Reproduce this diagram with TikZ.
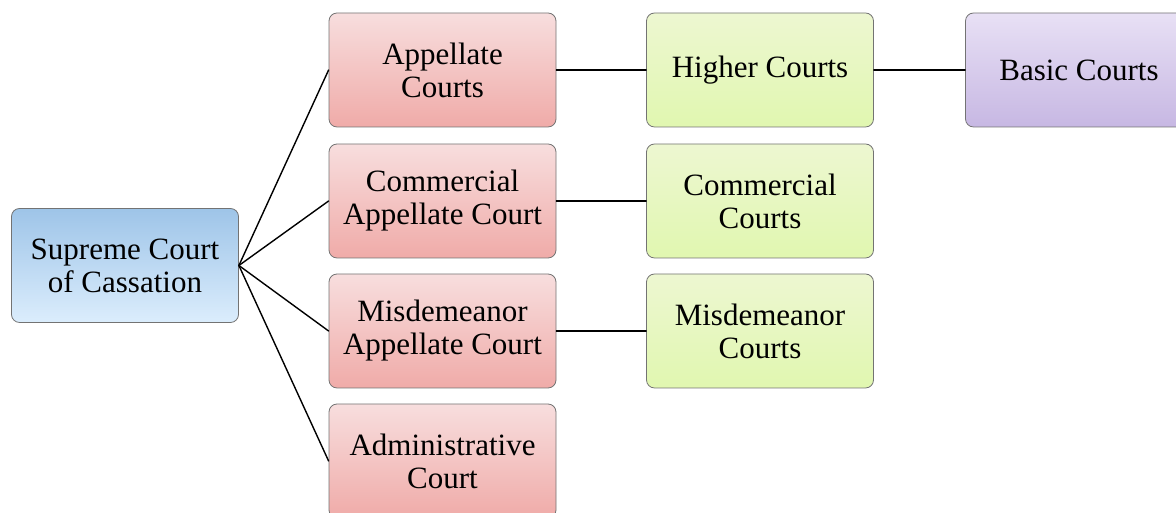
\documentclass[tikz,border=0pt]{standalone}
\usepackage{fontspec}
\setmainfont{Liberation Serif}
\definecolor{bluetop}{rgb}{0.62,0.77,0.91}
\definecolor{bluebot}{rgb}{0.86,0.93,0.99}
\definecolor{redtop}{rgb}{0.97,0.87,0.87}
\definecolor{redbot}{rgb}{0.94,0.67,0.66}
\definecolor{greentop}{rgb}{0.93,0.97,0.82}
\definecolor{greenbot}{rgb}{0.88,0.97,0.69}
\definecolor{violettop}{rgb}{0.91,0.88,0.96}
\definecolor{violetbot}{rgb}{0.78,0.72,0.89}
\definecolor{framegray}{rgb}{0.45,0.45,0.45}

\begin{document}
\begin{tikzpicture}[x=1pt,y=1pt,line cap=round,line join=round,
  court/.style={draw=framegray,line width=0.8pt,rounded corners=8pt,minimum width=227pt,minimum height=114pt,
    inner sep=2pt,align=center,font=\fontsize{31}{33}\selectfont},
  supreme/.style={court,top color=bluetop,bottom color=bluebot},
  appeal/.style={court,top color=redtop,bottom color=redbot},
  first/.style={court,top color=greentop,bottom color=greenbot},
  basic/.style={court,top color=violettop,bottom color=violetbot},
  link/.style={line width=1.4pt,color=black}]

\useasboundingbox (0,0) rectangle (1176,513);
\clip (0,0) rectangle (1176,513);

\node[supreme] (scc) at (125,247.5) {Supreme Court\\of Cassation};

\node[appeal] (ac) at (442.5,443) {Appellate\\Courts};
\node[appeal] (cac) at (442.5,312) {Commercial\\Appellate Court};
\node[appeal] (mac) at (442.5,182) {Misdemeanor\\Appellate Court};
\node[appeal] (adm) at (442.5,52) {Administrative\\Court};

\node[first] (hc) at (760,443) {Higher Courts};
\node[first] (cc) at (760,312) {Commercial\\Courts};
\node[first] (mc) at (760,182) {Misdemeanor\\Courts};

\node[basic] (bc) at (1079,443) {Basic Courts};

\foreach \a in {ac,cac,mac,adm}
\draw[link] (scc.east) -- (\a.west);
\draw[link] (ac) -- (hc);
\draw[link] (hc) -- (bc);
\draw[link] (cac) -- (cc);
\draw[link] (mac) -- (mc);

\end{tikzpicture}
\end{document}
